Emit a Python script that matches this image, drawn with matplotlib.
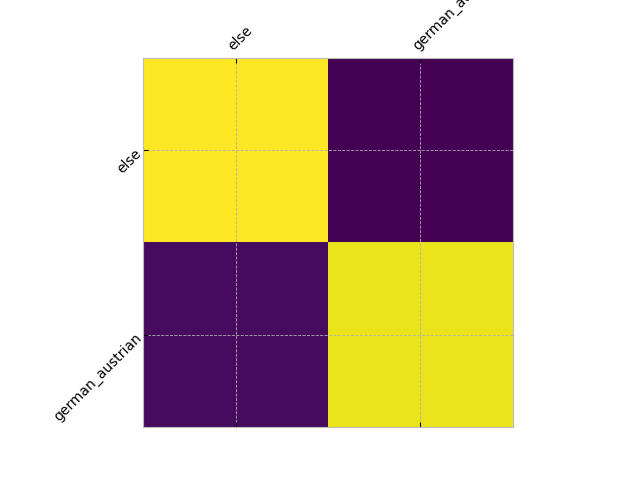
import matplotlib
matplotlib.use("Agg")
import matplotlib.pyplot as plt
import numpy as np

labels = ["else", "german_austrian"]
row_else = [0.90, 0.10]
row_german = [0.122, 0.878]

cm = np.array([row_else, row_german])

fig, ax = plt.subplots(figsize=(6.4, 4.8), dpi=100)
ax.matshow(cm, cmap="viridis")
ax.set_xticks(range(len(labels)))
ax.set_yticks(range(len(labels)))
ax.set_xticklabels(labels, rotation=45, ha="left", rotation_mode="anchor")
ax.set_yticklabels(labels, rotation=45, ha="right", rotation_mode="anchor")
ax.tick_params(direction="in", length=3.5, top=True, bottom=True, left=True, right=False)
ax.grid(True, linestyle="--", color="#b0b0b0", linewidth=0.6)
for s in ax.spines.values():
    s.set_color("#bbbbbb")
fig.savefig("out.png", dpi=100)
